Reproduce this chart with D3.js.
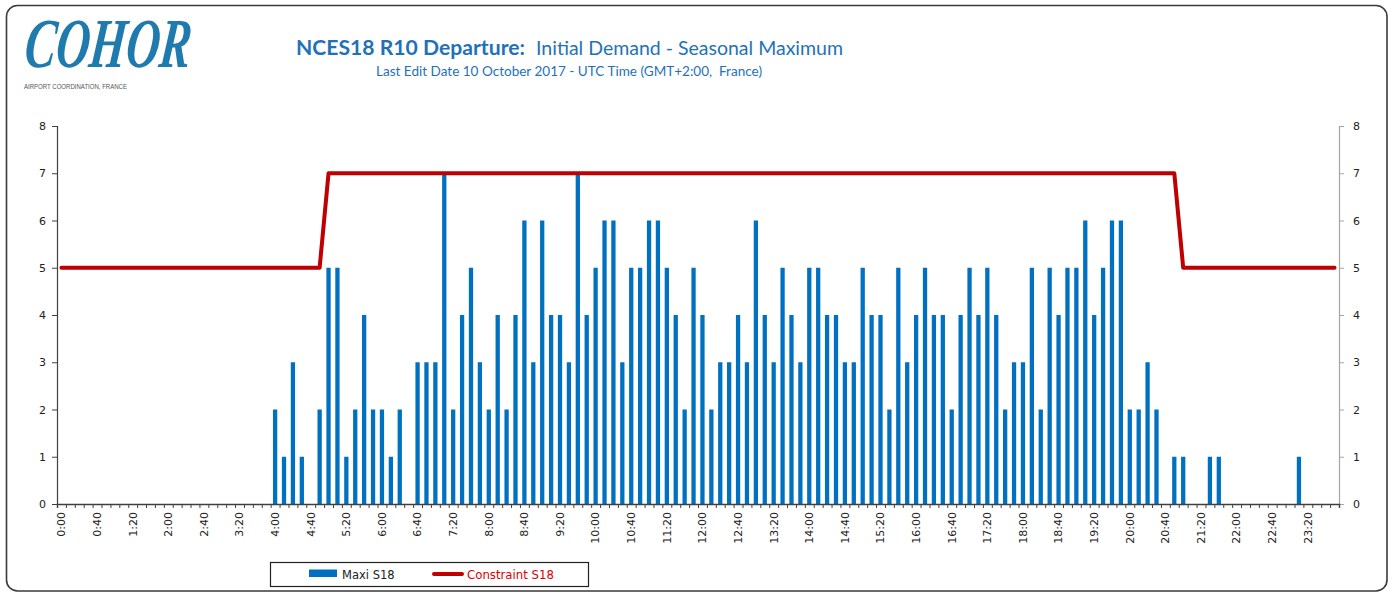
<!DOCTYPE html>
<html><head><meta charset="utf-8">
<script src="https://cdn.jsdelivr.net/npm/d3@7"></script>
<style>body{margin:0;background:#fff;} svg{display:block;}</style>
</head><body><svg id="c" width="1393" height="594"></svg>
<script>
// 10-minute slots over the day
const categories = d3.range(144).map(i => Math.floor(i / 6) + ":" + String((i % 6) * 10).padStart(2, "0"));
const tickLabels = ["0:00","0:40","1:20","2:00","2:40","3:20","4:00","4:40","5:20","6:00","6:40","7:20",
  "8:00","8:40","9:20","10:00","10:40","11:20","12:00","12:40","13:20","14:00","14:40","15:20",
  "16:00","16:40","17:20","18:00","18:40","19:20","20:00","20:40","21:20","22:00","22:40","23:20"];
const yTicks = [0,1,2,3,4,5,6,7,8];
const maxiS18 = [
  0,0,0,0,0,0, 0,0,0,0,0,0, 0,0,0,0,0,0, 0,0,0,0,0,0,
  2,1,3,1,0,2, 5,5,1,2,4,2, 2,1,2,0,3,3, 3,7,2,4,5,3,
  2,4,2,4,6,3, 6,4,4,3,7,4, 5,6,6,3,5,5, 6,6,5,4,2,5,
  4,2,3,3,4,3, 6,4,3,5,4,3, 5,5,4,4,3,3, 5,4,4,2,5,3,
  4,5,4,4,2,4, 5,4,5,4,2,3, 3,5,2,5,4,5, 5,6,4,5,6,6,
  2,2,3,2,0,1, 1,0,0,1,1,0, 0,0,0,0,0,0, 0,1,0,0,0,0
];
const constraintS18 = [
  5,5,5,5,5,5, 5,5,5,5,5,5, 5,5,5,5,5,5, 5,5,5,5,5,5,
  5,5,5,5,5,5, 7,7,7,7,7,7, 7,7,7,7,7,7, 7,7,7,7,7,7,
  7,7,7,7,7,7, 7,7,7,7,7,7, 7,7,7,7,7,7, 7,7,7,7,7,7,
  7,7,7,7,7,7, 7,7,7,7,7,7, 7,7,7,7,7,7, 7,7,7,7,7,7,
  7,7,7,7,7,7, 7,7,7,7,7,7, 7,7,7,7,7,7, 7,7,7,7,7,7,
  7,7,7,7,7,7, 5,5,5,5,5,5, 5,5,5,5,5,5, 5,5,5,5,5,5
];
const seriesNames = ["Maxi S18", "Constraint S18"];

const svg = d3.select("#c");
const L = 57, R = 1339, T = 126, B = 504;
const axisFont = "'DejaVu Sans', Verdana, sans-serif";

// frame
svg.append("rect").attr("x", 6.5).attr("y", 5.5).attr("width", 1380.5).attr("height", 585.5)
  .attr("rx", 11).attr("fill", "#fff").attr("stroke", "#3a3a3a").attr("stroke-width", 1.6);

// logo
svg.append("text").attr("transform", "translate(23,67) scale(1,1.3) skewX(-8)")
  .attr("font-family", "'Liberation Serif', serif").attr("font-style", "italic").attr("font-weight", "bold")
  .attr("font-size", 54).attr("fill", "#1f7aae")
  .attr("textLength", 166).attr("lengthAdjust", "spacingAndGlyphs")
  .text("COHOR");
svg.append("text").attr("x", 24).attr("y", 89)
  .attr("font-family", "'Liberation Sans', Arial, sans-serif").attr("font-size", 6.5).attr("fill", "#555")
  .attr("textLength", 103).attr("lengthAdjust", "spacingAndGlyphs")
  .text("AIRPORT COORDINATION, FRANCE");

// titles
svg.append("text").attr("x", 296).attr("y", 55)
  .attr("font-family", "Lato, 'Open Sans', sans-serif").attr("font-weight", "bold").attr("font-size", 20)
  .attr("fill", "#1f72b8").attr("textLength", 229).attr("lengthAdjust", "spacingAndGlyphs")
  .text("NCES18 R10 Departure:");
svg.append("text").attr("x", 536).attr("y", 55)
  .attr("font-family", "Lato, 'Open Sans', sans-serif").attr("font-size", 18.5)
  .attr("fill", "#1f72b8").attr("textLength", 307).attr("lengthAdjust", "spacingAndGlyphs")
  .text("Initial Demand - Seasonal Maximum");
svg.append("text").attr("x", 376).attr("y", 76)
  .attr("font-family", "Lato, 'Open Sans', sans-serif").attr("font-size", 12.5)
  .attr("fill", "#1f72b8").attr("textLength", 386).attr("lengthAdjust", "spacingAndGlyphs")
  .style("white-space", "pre")
  .text("Last Edit Date 10 October 2017 - UTC Time (GMT+2:00,\u00a0 France)");

// scales
const x = d3.scaleBand().domain(categories).range([L, R]).padding(0);
const xLin = d3.scaleLinear().domain([0, categories.length]).range([L, R]);
const y = d3.scaleLinear().domain([0, 8]).range([B, T]);
const bw = x.bandwidth();

// bars
svg.append("g").selectAll("rect").data(maxiS18.map((v, i) => ({c: categories[i], v})))
  .join("rect")
  .attr("x", d => x(d.c) + bw * 0.26)
  .attr("width", bw * 0.48)
  .attr("y", d => y(d.v))
  .attr("height", d => y(0) - y(d.v))
  .attr("fill", "#0070c0");

// constraint line
const line = d3.line().x((d, i) => x(categories[i]) + bw / 2).y(d => y(d));
svg.append("path").datum(constraintS18).attr("d", line)
  .attr("fill", "none").attr("stroke", "#c00000").attr("stroke-width", 4)
  .attr("stroke-linejoin", "round").attr("stroke-linecap", "round");

// left axis
const gl = svg.append("g").attr("transform", `translate(${L},0)`)
  .call(d3.axisLeft(y).tickValues(yTicks).tickSize(5).tickPadding(6).tickFormat(d3.format("d")));
gl.select(".domain").attr("stroke", "#404040").attr("stroke-width", 1.2);
gl.selectAll(".tick line").attr("stroke", "#404040");
gl.selectAll("text").attr("font-family", axisFont).attr("font-size", 11).attr("fill", "#222");

// right axis
const gr = svg.append("g").attr("transform", `translate(${R},0)`)
  .call(d3.axisRight(y).tickValues(yTicks).tickSize(5).tickPadding(9).tickFormat(d3.format("d")));
gr.select(".domain").attr("stroke", "#a6a6a6").attr("stroke-width", 1.2);
gr.selectAll(".tick line").attr("stroke", "#a6a6a6");
gr.selectAll("text").attr("font-family", axisFont).attr("font-size", 11).attr("fill", "#222");

// x axis minor ticks at slot boundaries
const gx = svg.append("g").attr("transform", `translate(0,${B})`)
  .call(d3.axisBottom(xLin).tickValues(d3.range(categories.length + 1)).tickSize(4).tickFormat(""));
gx.select(".domain").attr("stroke", "#404040").attr("stroke-width", 1.4);
gx.selectAll(".tick line").attr("stroke", "#404040");

// x labels
const gxl = svg.append("g").attr("transform", `translate(0,${B})`)
  .call(d3.axisBottom(x).tickValues(tickLabels).tickSize(0));
gxl.select(".domain").remove();
gxl.selectAll("text")
  .attr("font-family", axisFont).attr("font-size", 11).attr("fill", "#222")
  .attr("transform", "rotate(-90)")
  .attr("text-anchor", "end")
  .attr("x", -8).attr("y", 0).attr("dy", "0.35em");

// legend
const lg = svg.append("g");
lg.append("rect").attr("x", 270.5).attr("y", 562.5).attr("width", 318).attr("height", 24)
  .attr("fill", "#fff").attr("stroke", "#222").attr("stroke-width", 1.2);
lg.append("rect").attr("x", 309).attr("y", 569.5).attr("width", 28).attr("height", 7.5).attr("fill", "#0070c0");
lg.append("text").attr("x", 342).attr("y", 578.5).attr("font-family", axisFont).attr("font-size", 11.5)
  .attr("fill", "#222").text(seriesNames[0]);
lg.append("line").attr("x1", 434).attr("x2", 462).attr("y1", 574).attr("y2", 574)
  .attr("stroke", "#c00000").attr("stroke-width", 4).attr("stroke-linecap", "round");
lg.append("text").attr("x", 467).attr("y", 578.5).attr("font-family", axisFont).attr("font-size", 11.5)
  .attr("fill", "#e00000").attr("textLength", 87).attr("lengthAdjust", "spacingAndGlyphs").text(seriesNames[1]);
</script></body></html>
